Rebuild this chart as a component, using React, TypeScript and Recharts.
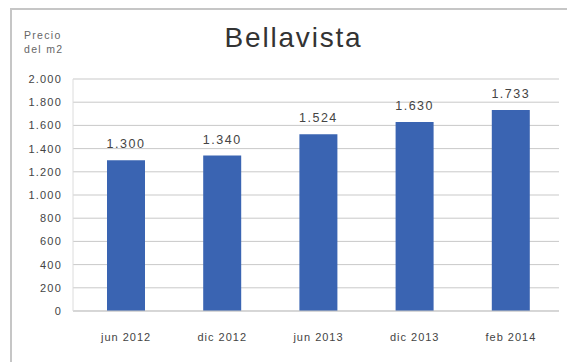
import { BarChart, Bar, XAxis, YAxis, CartesianGrid, LabelList } from "recharts"

// precio del m2 por fecha
const periods = ["jun 2012", "dic 2012", "jun 2013", "dic 2013", "feb 2014"]
const prices = [1300, 1340, 1524, 1630, 1733]
const yTicks = [0, 200, 400, 600, 800, 1000, 1200, 1400, 1600, 1800, 2000]

const data = periods.map((period, i) => ({ period, price: prices[i] }))

// 1.300 style, dot as thousands separator
const formatThousands = (value: number) => {
  const s = String(Math.round(value))
  return s.replace(/\B(?=(\d{3})+(?!\d))/g, ".")
}

const font = "'Liberation Sans', Arial, Helvetica, sans-serif"

export default function App() {
  return (
    <div style={{ position: "absolute", left: 0, top: 0, width: 567, height: 362, background: "#fff", overflow: "hidden", fontFamily: font }}>
      <div style={{ position: "absolute", left: 10, top: 8, width: 600, height: 400, borderTop: "2px solid #c6c6c6", borderLeft: "2px solid #c6c6c6" }} />
      <div style={{ position: "absolute", left: 0, width: 587, top: 24, fontSize: 28, lineHeight: "28px", textAlign: "center", color: "#333", letterSpacing: 1.8 }}>
        Bellavista
      </div>
      <div style={{ position: "absolute", left: 24, top: 28, fontSize: 10.5, lineHeight: "14px", color: "#666", letterSpacing: 1.3 }}>
        Precio
        <br />
        del m2
      </div>
      <BarChart
        width={567}
        height={362}
        data={data}
        margin={{ top: 79, right: 8, left: 0, bottom: 21 }}
        style={{ position: "absolute", left: 0, top: 0 }}
      >
        <CartesianGrid vertical={false} stroke="#c9c9c9" />
        <XAxis
          dataKey="period"
          height={30}
          padding={{ left: 5, right: 0 }}
          axisLine={{ stroke: "#c9c9c9" }}
          tickLine={false}
          tickSize={0}
          tickMargin={22}
          tick={{ fontSize: 11, fill: "#444", fontFamily: font, letterSpacing: 1 }}
        />
        <YAxis
          width={73}
          domain={[0, 2000]}
          ticks={yTicks}
          tickFormatter={formatThousands}
          axisLine={{ stroke: "#dcdcdc" }}
          tickLine={false}
          tickSize={0}
          tickMargin={11}
          tick={{ fontSize: 11, fill: "#444", fontFamily: font, letterSpacing: 1.2 }}
        />
        <Bar dataKey="price" fill="#3a64b2" barSize={38} isAnimationActive={false}>
          <LabelList
            dataKey="price"
            position="top"
            offset={12}
            formatter={(v: number) => formatThousands(v)}
            style={{ fontSize: 12.5, fill: "#444", fontFamily: font, letterSpacing: 1.5 }}
          />
        </Bar>
      </BarChart>
    </div>
  )
}
